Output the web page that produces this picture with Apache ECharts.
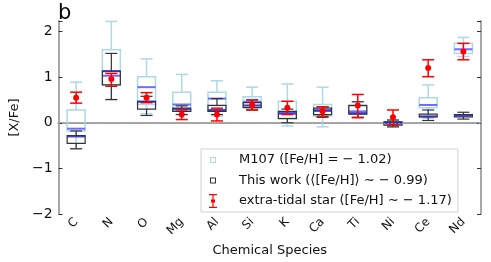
<!DOCTYPE html>
<html>
<head>
<meta charset="utf-8">
<script src="https://cdn.jsdelivr.net/npm/echarts@6/dist/echarts.min.js"></script>
<style>html,body{margin:0;padding:0;background:#fff}#c{width:491px;height:262px}</style>
</head>
<body>
<div id="c"></div>
<script>
const categories = ['C','N','O','Mg','Al','Si','K','Ca','Ti','Ni','Ce','Nd'];
// [lower whisker, Q1, median, Q3, upper whisker]
const m107 = [
  [-0.57,-0.18,-0.13,0.28,0.89],
  [0.50,0.83,1.03,1.60,2.22],
  [0.20,0.40,0.78,1.01,1.40],
  [0.18,0.25,0.40,0.67,1.06],
  [0.15,0.25,0.53,0.67,0.92],
  [0.30,0.35,0.46,0.57,0.78],
  [-0.07,0.10,0.23,0.47,0.85],
  [-0.09,0.15,0.28,0.40,0.78],
  [0.12,0.20,0.25,0.36,0.46],
  [-0.09,-0.05,0.00,0.02,0.06],
  [0.10,0.33,0.39,0.55,0.83],
  [1.45,1.52,1.61,1.74,1.87]
];
const thisWork = [
  [-0.57,-0.45,-0.30,-0.28,-0.18],
  [0.51,0.83,1.13,1.13,1.52],
  [0.16,0.30,0.46,0.47,0.58],
  [0.18,0.25,0.30,0.32,0.37],
  [0.18,0.25,0.28,0.38,0.53],
  [0.28,0.33,0.38,0.44,0.50],
  [0.00,0.09,0.20,0.25,0.30],
  [0.12,0.18,0.26,0.32,0.35],
  [0.12,0.19,0.21,0.38,0.46],
  [-0.09,-0.05,0.00,0.02,0.06],
  [0.05,0.13,0.14,0.19,0.28],
  [0.08,0.13,0.16,0.18,0.23]
];
const starValue = [0.55,0.96,0.55,0.18,0.18,0.39,0.33,0.25,0.38,0.12,1.20,1.56];
const starLow   = [0.43,0.80,0.44,0.07,0.04,0.28,0.18,0.14,0.11,-0.04,1.01,1.38];
const starHigh  = [0.67,1.08,0.66,0.28,0.32,0.50,0.47,0.35,0.62,0.28,1.38,1.74];
const yTicks = [-2,-1,0,1,2];
const legendNames = [
  'M107 ([Fe/H] = \u2212 1.02)',
  'This work (\u27e8[Fe/H]\u27e9 \u223c \u2212 0.99)',
  'extra-tidal star ([Fe/H] \u223c \u2212 1.17)'];

const FONT = 'DejaVu Sans';
function boxRenderer(boxColor, boxWidthPx, medColor, lw) {
  return function(params, api) {
    const i = api.value(0);
    const pMin = api.coord([i, api.value(1)]);
    const pQ1 = api.coord([i, api.value(2)]);
    const pMed = api.coord([i, api.value(3)]);
    const pQ3 = api.coord([i, api.value(4)]);
    const pMax = api.coord([i, api.value(5)]);
    const cx = pMin[0];
    const hw = boxWidthPx / 2, cw = 6;
    const st = {stroke: boxColor, lineWidth: lw, fill: null};
    return {type: 'group', children: [
      {type:'line', shape:{x1:cx,y1:pQ3[1],x2:cx,y2:pMax[1]}, style:st},
      {type:'line', shape:{x1:cx,y1:pQ1[1],x2:cx,y2:pMin[1]}, style:st},
      {type:'line', shape:{x1:cx-cw,y1:pMax[1],x2:cx+cw,y2:pMax[1]}, style:st},
      {type:'line', shape:{x1:cx-cw,y1:pMin[1],x2:cx+cw,y2:pMin[1]}, style:st},
      {type:'rect', shape:{x:cx-hw,y:pQ3[1],width:hw*2,height:pQ1[1]-pQ3[1]}, style:{stroke:boxColor,lineWidth:lw,fill:'rgba(0,0,0,0)'}},
      {type:'line', shape:{x1:cx-hw,y1:pMed[1],x2:cx+hw,y2:pMed[1]}, style:{stroke:medColor,lineWidth:2}}
    ]};
  };
}
function errRenderer(params, api) {
  const i = api.value(0);
  const pV = api.coord([i, api.value(1)]);
  const pL = api.coord([i, api.value(2)]);
  const pH = api.coord([i, api.value(3)]);
  const cx = pV[0], cw = 6;
  const st = {stroke:'#ff0000', lineWidth:1.5};
  return {type:'group', children:[
    {type:'line', shape:{x1:cx,y1:pL[1],x2:cx,y2:pH[1]}, style:st},
    {type:'line', shape:{x1:cx-cw,y1:pL[1],x2:cx+cw,y2:pL[1]}, style:st},
    {type:'line', shape:{x1:cx-cw,y1:pH[1],x2:cx+cw,y2:pH[1]}, style:st},
    {type:'circle', shape:{cx:cx,cy:pV[1],r:3}, style:{fill:'#ff0000'}}
  ]};
}
const phantom = 'M0,0L0.01,0L0,0.01Z M29,14L28.99,14L29,13.99Z ';
const sqIcon = 'path://' + phantom + 'M5,4H11V10H5Z M6,5V9H10V5Z';
const errIcon = 'path://' + phantom + 'M4,0H12V1.2H4Z M4,12.8H12V14H4Z M7.4,0H8.6V14H7.4Z M6,5.5H10V8.5H6Z';

const chart = echarts.init(document.getElementById('c'), null, {renderer:'canvas'});
const axisLineStyle = {color:'#a8a8a8', width:2};
chart.setOption({
  animation: false,
  backgroundColor: '#fff',
  title: {text:'b', left:53, top:-2, textStyle:{fontFamily:FONT, fontSize:21, fontWeight:'normal', color:'#000'}},
  grid: {left:53, right:10, top:21, bottom:42},
  legend: {
    orient:'vertical', left:201, top:149, itemWidth:29, itemHeight:14, itemGap:6.5,
    textStyle:{fontFamily:FONT, fontSize:13, color:'#111'},
    itemStyle:{borderWidth:0},
    backgroundColor:'#fff', borderColor:'#d0d0d0', borderWidth:1, padding:[4,6,4,4],
    data:[
      {name:legendNames[0], icon:sqIcon, itemStyle:{color:'#add8e6'}},
      {name:legendNames[1], icon:sqIcon, itemStyle:{color:'#333'}},
      {name:legendNames[2], icon:errIcon, itemStyle:{color:'#ff0000'}}
    ]
  },
  xAxis: [
    {type:'category', data:categories, position:'bottom', boundaryGap:true,
     name:'Chemical Species', nameLocation:'middle', nameGap:26,
     nameTextStyle:{fontFamily:FONT, fontSize:13, color:'#111'},
     axisLine:{lineStyle:axisLineStyle}, axisTick:{inside:true, alignWithLabel:true, length:4, lineStyle:{color:'#333'}},
     axisLabel:{rotate:45, fontFamily:FONT, fontSize:12, color:'#111', margin:6, interval:0}, splitLine:{show:false}},
    {type:'category', data:categories, position:'top', boundaryGap:true,
     axisLine:{lineStyle:axisLineStyle}, axisTick:{inside:true, alignWithLabel:true, length:4, lineStyle:{color:'#333'}},
     axisLabel:{show:false}, splitLine:{show:false}}
  ],
  yAxis: [
    {type:'value', min:-2, max:2.23, interval:1, position:'left',
     name:'[X/Fe]', nameLocation:'middle', nameGap:25, nameRotate:90,
     nameTextStyle:{fontFamily:FONT, fontSize:13, color:'#111'},
     axisLine:{show:true, lineStyle:axisLineStyle}, axisTick:{show:true, inside:true, length:4, lineStyle:{color:'#333'}},
     axisLabel:{fontFamily:FONT, fontSize:14, color:'#111', margin:6,
       formatter: v => (yTicks.indexOf(v) >= 0 ? String(v).replace('-', '\u2212') : '')},
     splitLine:{show:false}},
    {type:'value', min:-2, max:2.23, interval:1, position:'right',
     axisLine:{show:true, lineStyle:axisLineStyle}, axisTick:{show:true, inside:true, length:4, lineStyle:{color:'#333'}},
     axisLabel:{show:false}, splitLine:{show:false}}
  ],
  series: [
    {name:legendNames[0], type:'custom', itemStyle:{color:'#add8e6'},
     renderItem: boxRenderer('#add8e6', 18, 'rgba(60,60,255,0.75)', 1.5),
     encode:{x:0, y:[1,2,3,4,5]},
     data: m107.map((r,i)=>[i].concat(r)),
     markLine:{silent:true, symbol:'none', label:{show:false},
       lineStyle:{color:'#999', type:[1.5,2], width:1}, data:[{yAxis:0}]}},
    {name:legendNames[1], type:'custom', itemStyle:{color:'#333'},
     renderItem: boxRenderer('#333333', 18, 'rgba(40,40,190,0.85)', 1.2),
     encode:{x:0, y:[1,2,3,4,5]},
     data: thisWork.map((r,i)=>[i].concat(r))},
    {name:legendNames[2], type:'custom', itemStyle:{color:'#ff0000'},
     renderItem: errRenderer,
     encode:{x:0, y:[1,2,3]},
     data: categories.map((c,i)=>[i, starValue[i], starLow[i], starHigh[i]])}
  ]
});
</script>
</body>
</html>
